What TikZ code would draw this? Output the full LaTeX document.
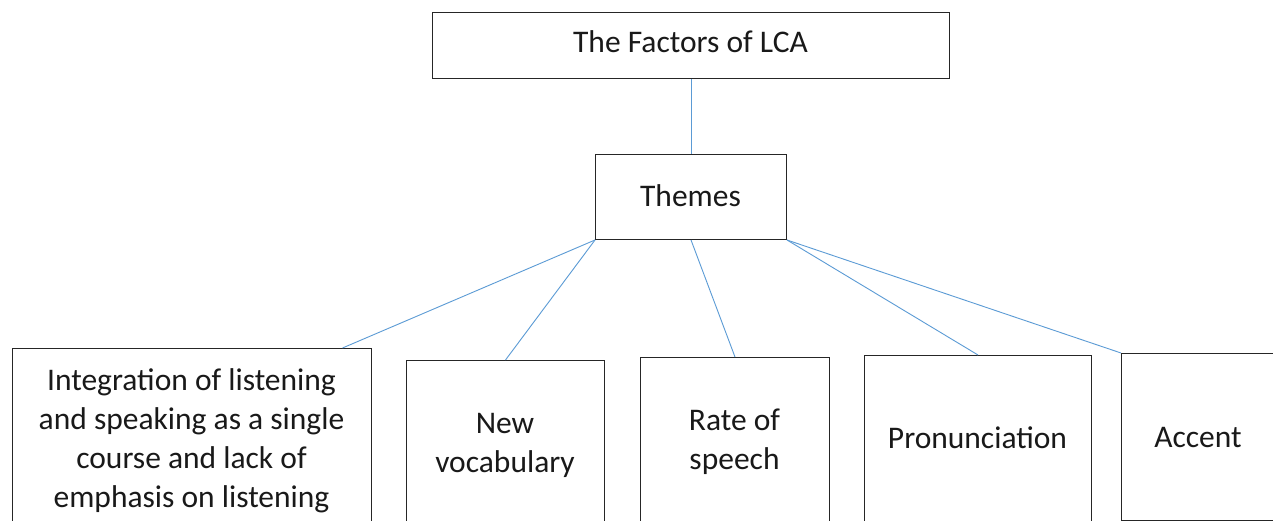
\documentclass[tikz,border=0pt]{standalone}
\usepackage{fontspec}
\setmainfont{Carlito}
\begin{document}
\begin{tikzpicture}[x=1pt,y=-1pt,
  box/.style={draw=black!85,line width=1pt,anchor=north west,inner sep=0pt,fill=white},
  lbl/.style={anchor=base,align=center,inner sep=0pt,text=black!90,
    font=\fontsize{31.5}{38.9}\selectfont},
  link/.style={draw={rgb,255:red,91;green,155;blue,213},line width=0.9pt}]
\useasboundingbox (0,0) rectangle (1273,521);
\clip (0,0) rectangle (1273,521);
\fill[white] (0,0) rectangle (1273,521);

% boxes
\node[box,minimum width=517,minimum height=66] (top) at (432,12) {};
\node[box,minimum width=191,minimum height=85] (themes) at (595,154) {};
\node[box,minimum width=359,minimum height=200] (b1) at (12,348) {};
\node[box,minimum width=198,minimum height=190] (b2) at (406,360) {};
\node[box,minimum width=189,minimum height=163.5] (b3) at (640,357) {};
\node[box,minimum width=227,minimum height=165.5] (b4) at (864,355) {};
\node[box,minimum width=170,minimum height=166.5] (b5) at (1121,353) {};

% labels (base anchor sits on the last line's baseline)
\node[lbl] (ttop) at (690.5,53) {The Factors of LCA};
\node[lbl] (tthemes) at (690.5,207) {Themes};
\node[lbl] (t1) at (191.5,507) {Integration of listening\\and speaking as a single\\course and lack of\\emphasis on listening};
\node[lbl] (t2) at (505,472) {New\\vocabulary};
\node[lbl] (t3) at (734.5,469) {Rate of\\speech};
\node[lbl] (t4) at (977.5,448) {Pronunciation};
\node[lbl] (t5) at (1198,447) {Accent};

% connectors
\draw[link] (top.south) -- (themes.north);
\draw[link] (themes.south west) -- ([xshift=150.5pt]b1.north);
\draw[link] (themes.south west) -- (b2.north);
\draw[link] (themes.south) -- (b3.north);
\draw[link] (themes.south east) -- (b4.north);
\draw[link] (themes.south east) -- (b5.north west);
\end{tikzpicture}
\end{document}
